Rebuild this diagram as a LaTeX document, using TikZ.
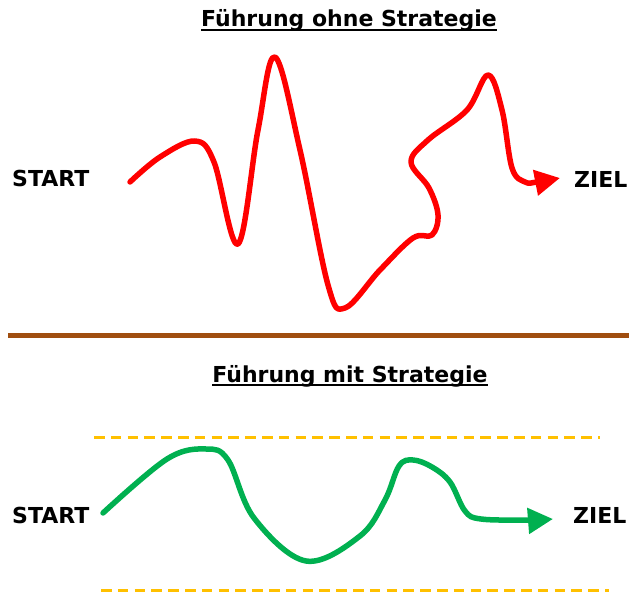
\documentclass[tikz,border=0pt]{standalone}
\usepackage{fontspec}
\setmainfont{DejaVu Sans}
\usetikzlibrary{arrows.meta}
\definecolor{chaos}{RGB}{255,0,0}
\definecolor{plan}{RGB}{0,176,80}
\definecolor{divider}{RGB}{160,78,16}
\definecolor{corridor}{RGB}{255,192,0}
\tikzset{
  label/.style={font=\bfseries\fontsize{22}{25}\selectfont, inner sep=0pt},
  heading/.style={label},
  path/.style={line width=5.5pt, line cap=round, line join=round,
    -{Triangle[length=25pt,width=25pt]}},
  bound/.style={corridor, line width=3pt, dash pattern=on 10.5pt off 6.3pt}
}
\begin{document}
\begin{tikzpicture}[x=1pt,y=-1pt]
  \useasboundingbox (0,0) rectangle (629,593);
  % headings
  \node[heading, anchor=base] (titleA) at (349,27) {Führung ohne Strategie};
  \draw[line width=2pt] ([yshift=-3pt]titleA.base west) -- ([yshift=-3pt]titleA.base east);
  \node[heading, anchor=base] (titleB) at (350,382) {Führung mit Strategie};
  \draw[line width=2pt] ([yshift=-3pt]titleB.base west) -- ([yshift=-3pt]titleB.base east);
  % end points
  \node[label, anchor=base west] (startA) at (12,187) {START};
  \node[label, anchor=base west] (zielA) at (574,188) {ZIEL};
  \node[label, anchor=base west] (startB) at (12,523) {START};
  \node[label, anchor=base west] (zielB) at (573,523) {ZIEL};
  % divider
  \draw[divider, line width=5pt] (8,336) -- (629,336);
  % corridor
  \draw[bound] (94,437) -- (600,437);
  \draw[bound] (101,590) -- (609,590);
  % without strategy
  \draw[path, chaos] plot[smooth, tension=0.6] coordinates {
    (130,182) (160,157) (195,141) (214,162) (238,244)
    (258,130) (275,57) (300,150) (328,285) (345,308)
    (380,270) (413,238) (432,235) (438,215) (429,188)
    (411,162) (428,140) (467,110) (488,75) (502,110) (512,168)
    (525,182) (537,182) (560,178)};
  % with strategy
  \draw[path, plan] plot[smooth, tension=0.6] coordinates {
    (103,513) (167,459) (206,449) (228,460) (254,518)
    (306,561) (360,536) (385,500) (399,466) (413,460) (432,467)
    (450,482) (465,511) (481,519) (528,520) (553,519)};
\end{tikzpicture}
\end{document}
